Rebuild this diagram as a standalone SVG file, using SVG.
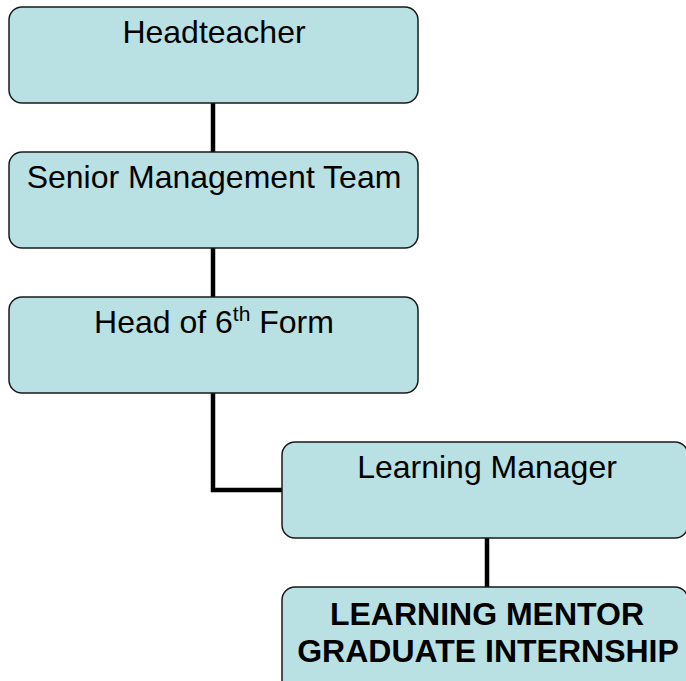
<svg xmlns="http://www.w3.org/2000/svg" width="686" height="681" viewBox="0 0 686 681">
  <style>
    .box { fill: #b9e0e3; stroke: #1a1a1a; stroke-width: 1.5; }
    .lbl { font-family: "Liberation Sans", Arial, sans-serif; font-size: 32px; fill: #000; text-anchor: middle; }
    .bold { font-weight: bold; }
    .link { fill: none; stroke: #000; stroke-width: 4.5; }
  </style>
  <rect width="686" height="681" fill="#fff"/>

  <!-- connectors -->
  <g id="connectors">
    <path class="link" d="M213 103 V152"/>
    <path class="link" d="M213 248 V297"/>
    <path class="link" d="M213 393 V490 H282"/>
    <path class="link" d="M487 538 V587"/>
  </g>

  <g id="headteacher">
    <rect class="box" x="9" y="7" width="409" height="96" rx="13"/>
    <text class="lbl" x="214" y="43">Headteacher</text>
  </g>

  <g id="senior-management">
    <rect class="box" x="9" y="152" width="409" height="96" rx="13"/>
    <text class="lbl" x="214" y="188">Senior Management Team</text>
  </g>

  <g id="head-of-6th-form">
    <rect class="box" x="9" y="297" width="409" height="96" rx="13"/>
    <text class="lbl" x="214" y="333">Head of 6<tspan font-size="21" dy="-12">th</tspan><tspan dy="12"> Form</tspan></text>
  </g>

  <g id="learning-manager">
    <rect class="box" x="282" y="442" width="406" height="96" rx="13"/>
    <text class="lbl" x="487" y="478">Learning Manager</text>
  </g>

  <g id="learning-mentor">
    <rect class="box" x="282" y="587" width="406" height="110" rx="13"/>
    <text class="lbl bold" x="487" y="625">LEARNING MENTOR</text>
    <text class="lbl bold" x="488" y="662">GRADUATE INTERNSHIP</text>
  </g>
</svg>
